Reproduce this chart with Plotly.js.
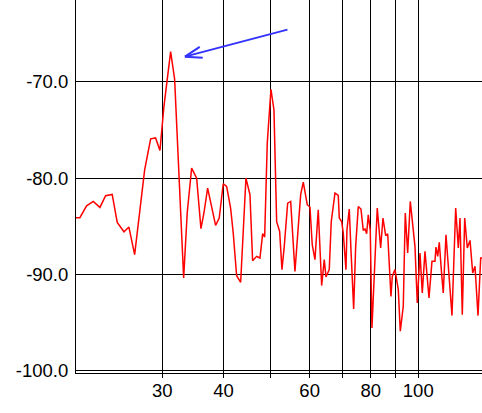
<!DOCTYPE html>
<html>
<head>
<meta charset="utf-8">
<script src="https://cdn.plot.ly/plotly-3.0.1.min.js"></script>
<style>
html,body{margin:0;padding:0;background:#fff;}
#chart{width:482px;height:413px;}
</style>
</head>
<body>
<div id="chart"></div>
<script>
// Frequency samples (x)
var freq = [19.70, 20.37, 21.02, 21.69, 22.38, 22.99, 23.71, 24.28, 25.06, 25.65,
  26.35, 27.62, 28.41, 29.08, 29.68, 30.24, 31.21, 31.80, 33.18, 33.74,
  34.45, 35.27, 35.99, 36.50, 37.14, 37.85, 38.56, 39.22, 39.97, 40.61,
  41.38, 41.89, 42.57, 43.38, 44.47, 45.32, 45.89, 46.77, 47.50, 48.11,
  48.56, 49.16, 50.02, 50.73, 51.38, 52.11, 52.68, 53.25, 54.11, 54.88,
  56.00, 57.52, 58.23, 59.33, 60.09, 60.74, 61.52, 62.48, 63.49, 64.27,
  64.79, 65.80, 66.42, 67.59, 68.65, 68.97, 69.75, 70.28, 71.18, 71.51,
  72.29, 72.87, 73.80, 74.50, 75.42, 76.38, 77.21, 77.83, 78.45, 79.05,
  79.79, 80.43, 81.57, 82.46, 83.79, 84.70, 85.79, 86.60, 87.95, 88.49,
  89.62, 90.34, 91.03, 91.89, 93.19, 94.07, 95.14, 96.31, 97.68, 98.46,
  99.53, 100.81, 101.90, 103.21, 105.17, 106.66, 108.17, 108.68, 109.56, 110.38,
  111.64, 112.48, 113.92, 115.54, 117.18, 119.24, 120.71, 121.68, 123.00, 124.40,
  125.93, 127.54, 129.17, 130.57, 132.43, 134.12, 135.5];

// Level values (y)
var level = [-84.12, -84.12, -82.88, -82.43, -83.05, -81.84, -81.70, -84.61, -85.58, -85.09,
  -87.96, -79.14, -75.92, -75.82, -77.13, -72.56, -66.85, -69.69, -90.38, -83.63,
  -78.96, -80.00, -85.26, -83.63, -81.04, -82.95, -84.92, -84.15, -80.59, -80.87,
  -83.12, -85.71, -90.15, -90.84, -80.00, -81.73, -88.59, -88.14, -88.31, -85.78,
  -86.13, -76.37, -70.76, -72.91, -84.54, -85.55, -89.52, -87.10, -82.60, -82.43,
  -89.70, -81.73, -80.42, -82.77, -83.01, -86.93, -88.48, -83.29, -91.18, -88.48,
  -90.28, -89.52, -84.51, -81.56, -81.81, -84.15, -84.51, -85.71, -89.52, -85.37,
  -83.22, -87.45, -93.60, -87.10, -82.95, -83.22, -85.44, -85.30, -85.78, -83.81,
  -85.44, -95.58, -89.18, -83.12, -87.27, -84.15, -85.99, -85.78, -92.30, -90.22,
  -89.52, -90.56, -91.60, -95.93, -93.33, -83.63, -87.79, -82.43, -85.89, -87.10,
  -92.98, -87.79, -91.94, -87.62, -92.46, -88.66, -88.66, -87.17, -88.14, -86.69,
  -90.04, -91.94, -85.89, -90.04, -94.30, -83.12, -87.27, -84.15, -94.20, -84.15,
  -87.27, -86.48, -89.87, -89.18, -94.30, -88.31, -88.3];

// Tick definitions
var xTickVals = [30, 40, 50, 60, 70, 80, 90, 100];
var xTickText = ['30', '40', '', '60', '', '80', '', '100'];
var yTickVals = [-100, -90, -80, -70];
var yTickText = ['-100.0', '-90.0', '-80.0', '-70.0'];

// Arrow annotation target (peak marker)
var arrowPoint = {x: 33.38, y: -67.37};

var font = {family: 'Liberation Sans, Arial, sans-serif', size: 18.5, color: '#000'};

var trace = {
  x: freq, y: level, type: 'scatter', mode: 'lines',
  line: {color: '#ff0000', width: 1.5},
  hoverinfo: 'skip'
};

var arrowColor = '#3333ff';
function arrowSeg(ax, ay) {
  return {x: Math.log10(arrowPoint.x), y: arrowPoint.y, xref: 'x', yref: 'y',
    text: '', showarrow: true, arrowhead: 0, arrowwidth: 2, arrowcolor: arrowColor,
    ax: ax, ay: ay, standoff: 0, startstandoff: 0};
}

var xRange = [Math.log10(20), Math.log10(134.94)];

var layout = {
  width: 482, height: 413,
  margin: {l: 76, r: 0, t: 0, b: 40, pad: 0},
  paper_bgcolor: '#fff', plot_bgcolor: '#fff',
  showlegend: false,
  font: font,
  xaxis: {
    type: 'log', range: xRange,
    tickmode: 'array', tickvals: xTickVals, ticktext: xTickText,
    showgrid: true, gridcolor: '#000', gridwidth: 1,
    showline: true, linecolor: '#000', linewidth: 1,
    ticks: 'outside', ticklen: 1, tickcolor: '#000', tickwidth: 1,
    zeroline: false, automargin: false, tickfont: font
  },
  xaxis2: {
    type: 'log', range: xRange, overlaying: 'x', anchor: 'y', side: 'bottom',
    tickmode: 'array', tickvals: xTickVals, showticklabels: false,
    showgrid: false, showline: false, zeroline: false,
    ticks: 'outside', ticklen: 4, tickcolor: '#000', tickwidth: 1,
    automargin: false
  },
  yaxis: {
    range: [-100.27, -61.48],
    tickmode: 'array', tickvals: yTickVals, ticktext: yTickText,
    showgrid: true, gridcolor: '#000', gridwidth: 1,
    showline: true, linecolor: '#000', linewidth: 1,
    ticks: '', ticklabelstandoff: 3,
    zeroline: false, automargin: false, tickfont: font
  },
  annotations: [arrowSeg(104, -27.4), arrowSeg(16.3, -10.7), arrowSeg(19.3, 1.3)]
};

var tickHolder = {x: [freq[0]], y: [level[0]], xaxis: 'x2', yaxis: 'y',
  type: 'scatter', mode: 'none', hoverinfo: 'skip'};

Plotly.newPlot('chart', [trace, tickHolder], layout, {staticPlot: true, displayModeBar: false});
</script>
</body>
</html>
